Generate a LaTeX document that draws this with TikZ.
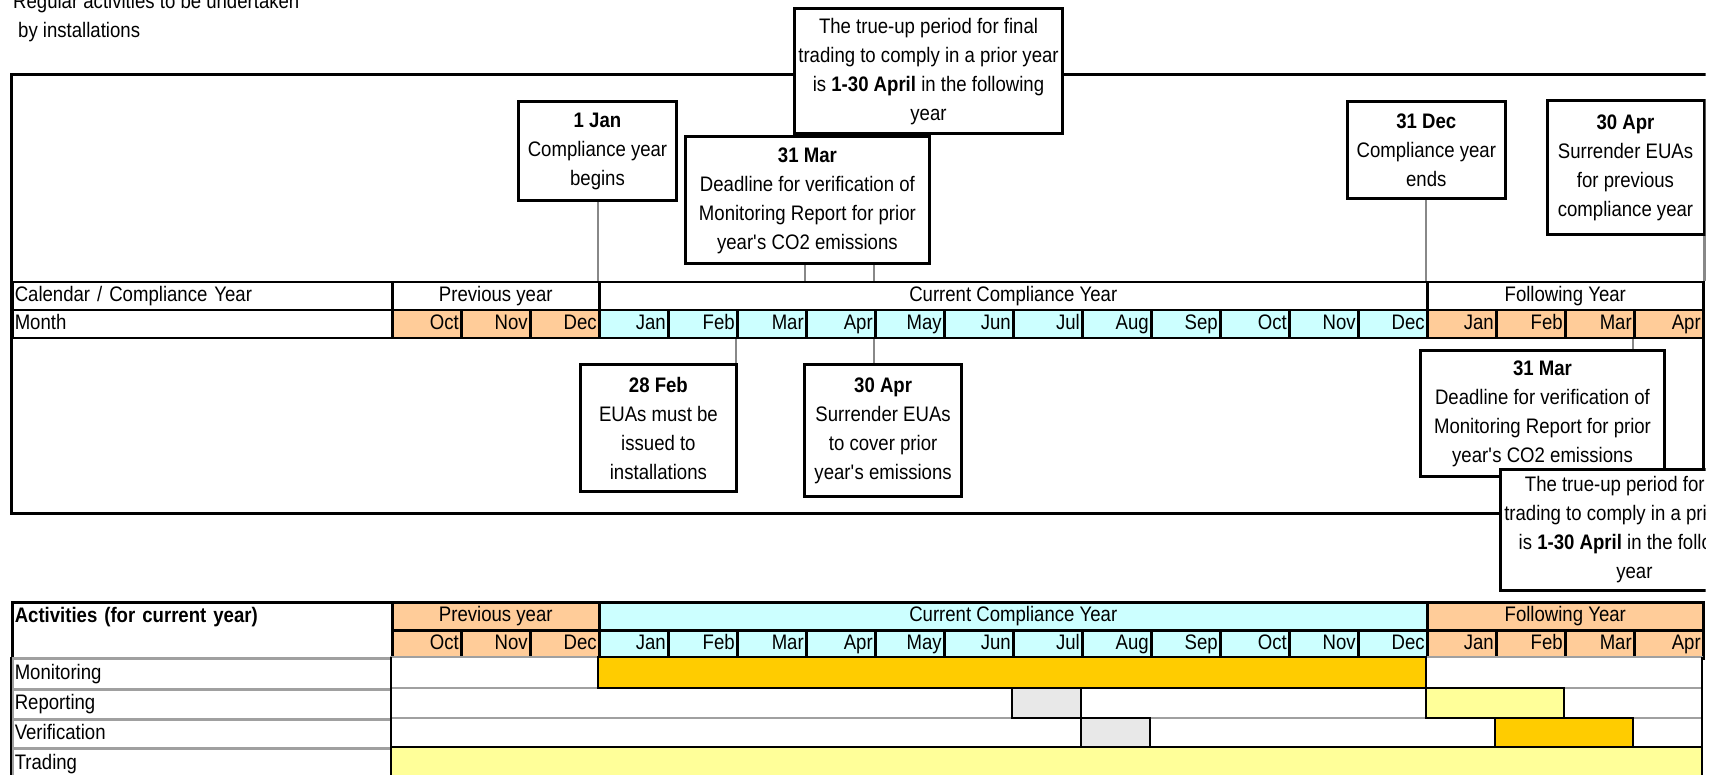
\documentclass[tikz,border=0pt]{standalone}
\usepackage{fontspec}
\setmainfont{Liberation Sans}[FakeStretch=0.885]
\definecolor{monOr}{HTML}{FFCC99}
\definecolor{monCy}{HTML}{CCFFFF}
\definecolor{barOr}{HTML}{FFCC00}
\definecolor{barYe}{HTML}{FFFF99}
\definecolor{barGr}{HTML}{E8E8E8}
\definecolor{conGr}{HTML}{888888}
\definecolor{sepGr}{HTML}{A0A0A0}
\newcommand{\fs}{\fontsize{21}{29}\selectfont}
\newcommand{\apo}{\textquotesingle}
\pgfdeclarelayer{bg}
\pgfsetlayers{bg,main}
\begin{document}
\begin{tikzpicture}[x=1pt,y=-1pt,
  evbox/.style={draw, line width=3pt, fill=white, align=center, inner sep=0pt, font=\fs},
  conn/.style={draw=conGr, line width=2.5pt},
  frm/.style={line width=3pt},
  cell/.style={draw, line width=2.5pt, inner sep=0pt, anchor=north west, font=\fs, text height=15pt, text depth=4pt},
  mcell/.style={cell, minimum width=69pt, minimum height=28pt, text width=64pt, align=right},
  lcell/.style={cell, minimum width=380pt, text width=375pt, align=left},
  txt/.style={font=\fs, inner sep=0pt},
  wseg/.style={draw=sepGr, line width=2.5pt, fill=white},
  cseg/.style={draw=black, line width=2.5pt}
]
\useasboundingbox (0,0) rectangle (1719,775);
\clip (0,0) rectangle (1705.5,775);

% title
\node[txt, anchor=base west] (title1) at (13,9) {Regular activities to be undertaken};
\node[txt, anchor=base west] (title2) at (18,38) {by installations};

% frame
\draw[frm] (1706,74.5) -- (11,74.5) -- (11,513) -- (1706,513);
\draw[frm] (1703,337) -- (1703,513);

% upper table
\node[lcell, minimum height=28pt] (ulab1) at (11,281) {Calendar / Compliance Year};
\node[lcell, minimum height=28pt] (ulab2) at (11,309) {Month};
\node[cell, minimum width=207pt, minimum height=28pt] (uprev) at (391,281) {Previous year};
\node[cell, minimum width=828pt, minimum height=28pt] (ucur) at (598,281) {Current Compliance Year};
\node[cell, minimum width=276pt, minimum height=28pt] (ufol) at (1426,281) {Following Year};
\foreach \k/\m/\c in {0/Oct/monOr,1/Nov/monOr,2/Dec/monOr,3/Jan/monCy,4/Feb/monCy,5/Mar/monCy,6/Apr/monCy,7/May/monCy,8/Jun/monCy,9/Jul/monCy,10/Aug/monCy,11/Sep/monCy,12/Oct/monCy,13/Nov/monCy,14/Dec/monCy,15/Jan/monOr,16/Feb/monOr,17/Mar/monOr,18/Apr/monOr}{
  \node[mcell, fill=\c] (um\k) at ({391+69*\k},309) {\m};
}

% event boxes (upper)
\node[evbox, minimum width=267.5pt, minimum height=125pt] (trueup) at (928.5,71.3)
  {The true-up period for final\\trading to comply in a prior year\\is \textbf{1-30 April} in the following\\year};
\node[evbox, minimum width=244.7pt, minimum height=127pt] (mar31) at (807.4,200.5)
  {\textbf{31 Mar}\\Deadline for verification of\\Monitoring Report for prior\\year\apo s CO2 emissions};
\node[evbox, minimum width=158pt, minimum height=98.6pt] (jan1) at (597.5,151.3)
  {\textbf{1 Jan}\\Compliance year\\begins};
\node[evbox, minimum width=158pt, minimum height=96.4pt] (dec31) at (1426.3,150.2)
  {\textbf{31 Dec}\\Compliance year\\ends};
\node[evbox, minimum width=157pt, minimum height=134pt] (apr30t) at (1625.5,167.5)
  {\textbf{30 Apr}\\Surrender EUAs\\for previous\\compliance year};

% event boxes (lower)
\node[evbox, minimum width=156.7pt, minimum height=126pt] (feb28) at (658.4,428)
  {\textbf{28 Feb}\\EUAs must be\\issued to\\installations};
\node[evbox, minimum width=156.8pt, minimum height=131.6pt] (apr30l) at (883.1,430.8)
  {\textbf{30 Apr}\\Surrender EUAs\\to cover prior\\year\apo s emissions};
\node[evbox, minimum width=243.4pt, minimum height=126pt] (mar31b) at (1542.5,413.9)
  {\textbf{31 Mar}\\Deadline for verification of\\Monitoring Report for prior\\year\apo s CO2 emissions};
\node[evbox, minimum width=267.2pt, minimum height=121pt] (trueupb) at (1634.4,529.5)
  {The true-up period for final\\trading to comply in a prior year\\is \textbf{1-30 April} in the following\\year};

% lower table header
\node[lcell, minimum height=56pt, text depth=30pt] (llab) at (11,601) {\textbf{Activities (for current year)}};
\node[cell, fill=monOr, minimum width=207pt, minimum height=28pt] (lprev) at (391,601) {Previous year};
\node[cell, fill=monCy, minimum width=828pt, minimum height=28pt] (lcur) at (598,601) {Current Compliance Year};
\node[cell, fill=monOr, minimum width=276pt, minimum height=28pt] (lfol) at (1426,601) {Following Year};
\foreach \k/\m/\c in {0/Oct/monOr,1/Nov/monOr,2/Dec/monOr,3/Jan/monCy,4/Feb/monCy,5/Mar/monCy,6/Apr/monCy,7/May/monCy,8/Jun/monCy,9/Jul/monCy,10/Aug/monCy,11/Sep/monCy,12/Oct/monCy,13/Nov/monCy,14/Dec/monCy,15/Jan/monOr,16/Feb/monOr,17/Mar/monOr,18/Apr/monOr}{
  \node[mcell, fill=\c] (lm\k) at ({391+69*\k},629) {\m};
}

% activity rows: labels
\node[lcell, draw=sepGr, minimum height=31pt] (rmon) at (11,657) {Monitoring};
\node[lcell, draw=sepGr, minimum height=30pt] (rrep) at (11,688) {Reporting};
\node[lcell, draw=sepGr, minimum height=29pt] (rver) at (11,718) {Verification};
\node[lcell, draw=sepGr, minimum height=31pt] (rtra) at (11,747) {Trading};

% activity rows: white background cells
\draw[wseg] (391,657) rectangle (598,688);
\draw[wseg] (1426,657) rectangle (1702,688);
\draw[wseg] (391,688) rectangle (1702,718);
\draw[wseg] (391,718) rectangle (1702,747);

% activity bars
\draw[cseg, fill=barOr] (598,657) rectangle (1426,688);
\draw[cseg, fill=barGr] (1012,688) rectangle (1081,718);
\draw[cseg, fill=barYe] (1426,688) rectangle (1564,718);
\draw[cseg, fill=barGr] (1081,718) rectangle (1150,747);
\draw[cseg, fill=barOr] (1495,718) rectangle (1633,747);
\draw[cseg, fill=barYe] (391,747) rectangle (1702,778);

% table outline lines
\draw[line width=2.5pt] (11,657) -- (11,778);
\draw[line width=2.5pt] (391,657) -- (391,778);
\draw[line width=2.5pt] (1702,657) -- (1702,778);

% connectors (behind)
\begin{pgfonlayer}{bg}
\draw[conn] (um3.north west |- jan1.south) -- (um3.north west |- ucur.north);
\draw[conn] (um6.north west |- mar31.south) -- (um6.north west |- ucur.north);
\draw[conn] (um7.north west |- trueup.south) -- (um7.north west |- ucur.north);
\draw[conn] (um15.north west |- dec31.south) -- (um15.north west |- ufol.north);
\draw[conn] (um18.north east |- apr30t.south) -- (um18.north east |- ufol.north);
\draw[conn] (um5.south west) -- (um5.south west |- feb28.north);
\draw[conn] (um7.south west) -- (um7.south west |- apr30l.north);
\draw[conn] (um18.south west) -- (um18.south west |- mar31b.north);
\end{pgfonlayer}
\end{tikzpicture}
\end{document}
